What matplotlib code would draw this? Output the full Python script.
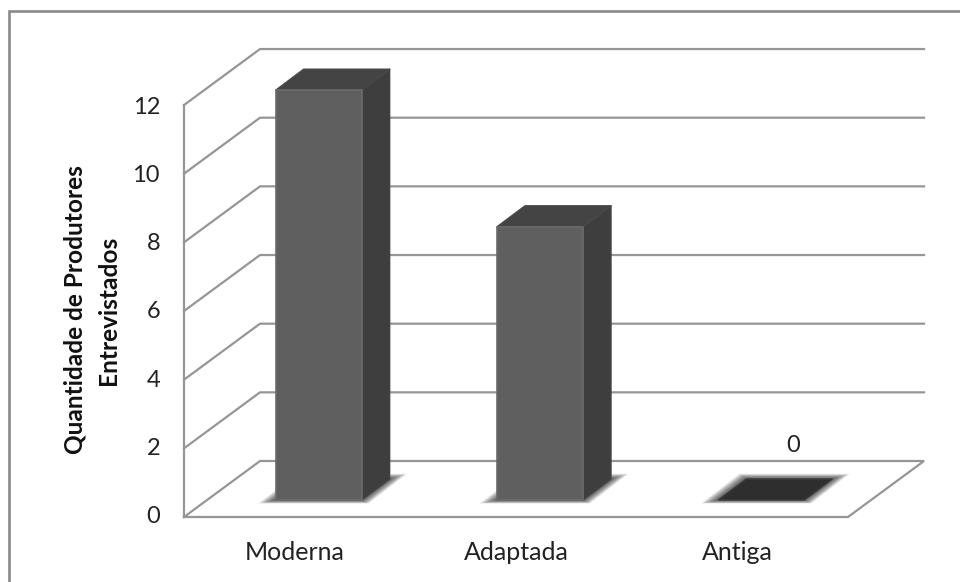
import matplotlib
matplotlib.use('Agg')
import matplotlib.pyplot as plt
from matplotlib.patches import Polygon

categorias = ['Moderna', 'Adaptada', 'Antiga']
valores = [12, 8, 0]
ticks = [0, 2, 4, 6, 8, 10, 12]
rotulo_y = ['Quantidade de Produtores', 'Entrevistados']

plt.rcParams['font.family'] = ['Lato', 'DejaVu Sans']

# Caja 3D en pixeles de la figura
X0, X1 = 184, 848
Y0 = 517
PX_POR_UNIDAD = 34.33
DX, DY = 76, -56
BAR_W, BAR_DX, BAR_DY = 86, 28, -21
BAR_BASE = 500
BAR_ESCALA = 34.15
GRIS = '#969696'
TEXTO = '#222222'


def yv(v):
    return Y0 - v * PX_POR_UNIDAD


fig = plt.figure(figsize=(9.6, 5.82), dpi=100)
ax = fig.add_axes([0, 0, 1, 1])
ax.set_xlim(0, 960)
ax.set_ylim(582, 0)
ax.axis('off')

# Marco exterior
ax.plot([9, 9, 960], [582, 11, 11], color='#8a8a8a', lw=1.9, solid_joinstyle='miter')

# Piso y pared lateral
ax.plot([X0, X1, X1 + DX, X0 + DX, X0], [Y0, Y0, Y0 + DY, Y0 + DY, Y0],
        color=GRIS, lw=1.6, solid_joinstyle='miter')
ax.plot([X0, X0], [Y0, yv(12)], color=GRIS, lw=1.6)

# Lineas de division
for t in ticks[1:]:
    y = yv(t)
    ax.plot([X0, X0 + DX, X1 + DX], [y, y + DY, y + DY], color=GRIS, lw=1.6,
            solid_joinstyle='miter')

for t in ticks:
    ax.text(160, 516.5 - t * 34.1, str(t), ha='right', va='center', fontsize=17, color=TEXTO)

ancho_cat = (X1 - X0) / len(categorias)
for i, (cat, val) in enumerate(zip(categorias, valores)):
    cx = X0 + ancho_cat * (i + 0.5)
    ax.text(cx, 553, cat, ha='center', va='center', fontsize=18, color=TEXTO)

    xa = cx + 24 - BAR_W / 2
    xb = xa + BAR_W
    yb = BAR_BASE
    yt = yb - val * BAR_ESCALA

    # Sombra difusa sobre el piso
    for k in range(36, 0, -1):
        e = k / 2
        sombra = [(xa - e, yb + e * 0.2), (xb + e * 0.4, yb + e * 0.2),
                  (xb + BAR_DX + e, yb + BAR_DY - e * 0.3), (xa + BAR_DX - e * 0.4, yb + BAR_DY - e * 0.3)]
        ax.add_patch(Polygon(sombra, closed=True, fc='black', ec='none', alpha=0.022, zorder=3))

    tapa = [(xa, yt), (xb, yt), (xb + BAR_DX, yt + BAR_DY), (xa + BAR_DX, yt + BAR_DY)]
    if val == 0:
        ax.add_patch(Polygon(tapa, closed=True, fc='#2e2e2e', ec='#3a3a3a', lw=1, zorder=4))
        ax.text(xb - 11, 446, str(val), ha='center', va='center', fontsize=17, color=TEXTO)
        continue

    lado = [(xb, yt), (xb + BAR_DX, yt + BAR_DY), (xb + BAR_DX, yb + BAR_DY), (xb, yb)]
    ax.add_patch(Polygon(lado, closed=True, fc='#3e3e3e', ec='#444444', lw=1, joinstyle='round', zorder=4))
    ax.add_patch(Polygon(tapa, closed=True, fc='#444444', ec='#484848', lw=1, joinstyle='round', zorder=4))
    ax.fill_between([xa, xb], yt, yb, color='#5f5f5f', ec='#6b6b6b', lw=1.2, zorder=5)

# Titulo del eje en dos lineas
for xt, linea in zip([75, 108], rotulo_y):
    ax.text(xt, 310, linea, rotation=90, ha='center', va='center', fontsize=17.6,
            fontweight='bold', color='#111111')

fig.savefig('out.png', dpi=100)
